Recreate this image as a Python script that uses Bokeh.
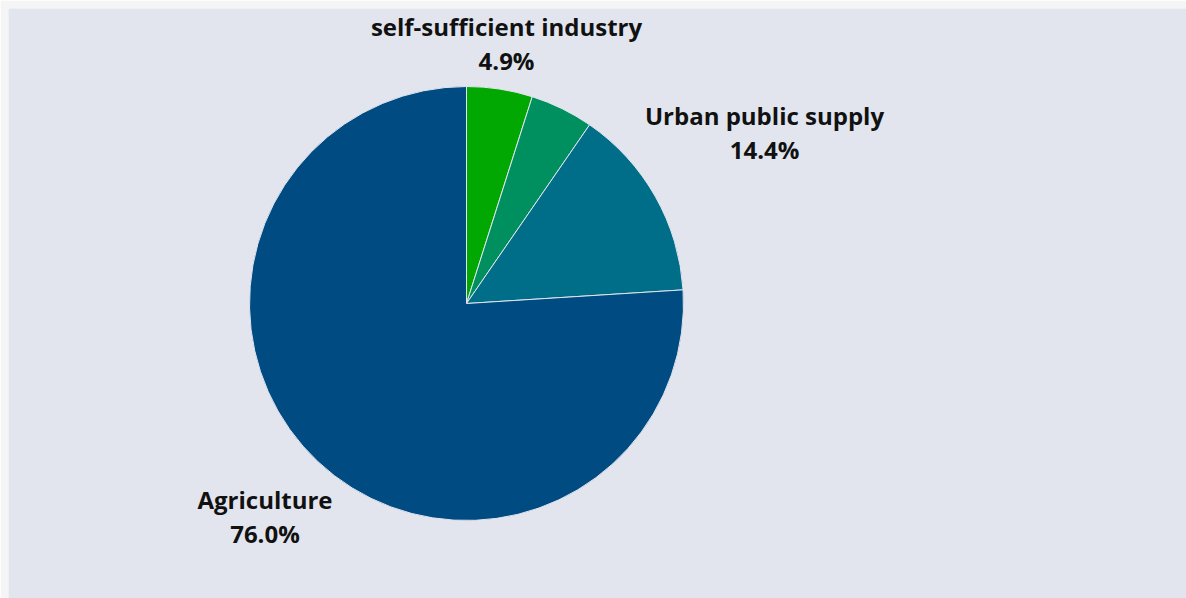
import math
from bokeh.plotting import figure
from bokeh.models import Range1d, ColumnDataSource
from bokeh.core.properties import value
from bokeh.embed import file_html
from bokeh.resources import INLINE

# ---- data ----
categories = ["self-sufficient industry", "Other", "Urban public supply", "Agriculture"]
shares = [4.9, 4.7, 14.4, 76.0]
show_label = [True, False, True, True]
colors = ["#02a802", "#00905f", "#006e89", "#004b82"]

# ---- layout ----
W, H = 1186, 598
CX, CY, R = 466, 295, 217
FONT = "Open Sans"
FS = 24
LINE_GAP = 34
LABEL_DIST = 8
TEXT_NUDGE = 2
BG = "#e2e5ee"

p = figure(width=W, height=H, output_backend="svg", toolbar_location=None,
           x_axis_type=None, y_axis_type=None,
           x_range=Range1d(8, W), y_range=Range1d(0, H - 8),
           min_border_left=8, min_border_top=8, min_border_right=0, min_border_bottom=0,
           border_fill_color="#f5f5f5", background_fill_color=BG)
p.outline_line_color = None
p.grid.visible = False

total = sum(shares)
starts, ends, mids = [], [], []
cum = 0.0
for s in shares:
    a0 = math.pi / 2 - 2 * math.pi * cum / total
    cum += s
    a1 = math.pi / 2 - 2 * math.pi * cum / total
    starts.append(a0)
    ends.append(a1)
    mids.append((a0 + a1) / 2)

src = ColumnDataSource(dict(start=starts, end=ends, color=colors))
p.wedge(x=CX, y=CY, radius=R, start_angle="start", end_angle="end",
        direction="clock", fill_color="color", line_color=BG, line_width=1, source=src)

# labels placed outside along mid-angle; nearest box point sits at R + LABEL_DIST
def text_w(s):
    return len(s) * 0.52 * FS

def box_dist(d, c, s, hw, hh):
    dx = max(abs(d * c) - hw, 0.0)
    dy = max(abs(d * s) - hh, 0.0)
    return math.hypot(dx, dy)

lx, ly1, ly2, t1, t2 = [], [], [], [], []
for name, share, mid, show in zip(categories, shares, mids, show_label):
    if not show:
        continue
    pct = f"{share:.1f}%"
    hw = max(text_w(name), text_w(pct)) / 2
    hh = 33
    c, s = math.cos(mid), math.sin(mid)
    lo, hi = 0.0, 2000.0
    for _ in range(60):
        m = (lo + hi) / 2
        if box_dist(m, c, s, hw, hh) < R + LABEL_DIST:
            lo = m
        else:
            hi = m
    d = (lo + hi) / 2
    x = CX + d * c
    y = CY + d * s + TEXT_NUDGE
    lx.append(x)
    ly1.append(y + LINE_GAP / 2)
    ly2.append(y - LINE_GAP / 2)
    t1.append(name)
    t2.append(pct)

for ys, ts in ((ly1, t1), (ly2, t2)):
    p.text(x=lx, y=ys, text=ts, text_font=value(FONT), text_font_size=f"{FS}px",
           text_font_style="bold", text_color="#111111",
           text_align="center", text_baseline="middle")

open("out.html", "w").write(file_html(p, INLINE))
